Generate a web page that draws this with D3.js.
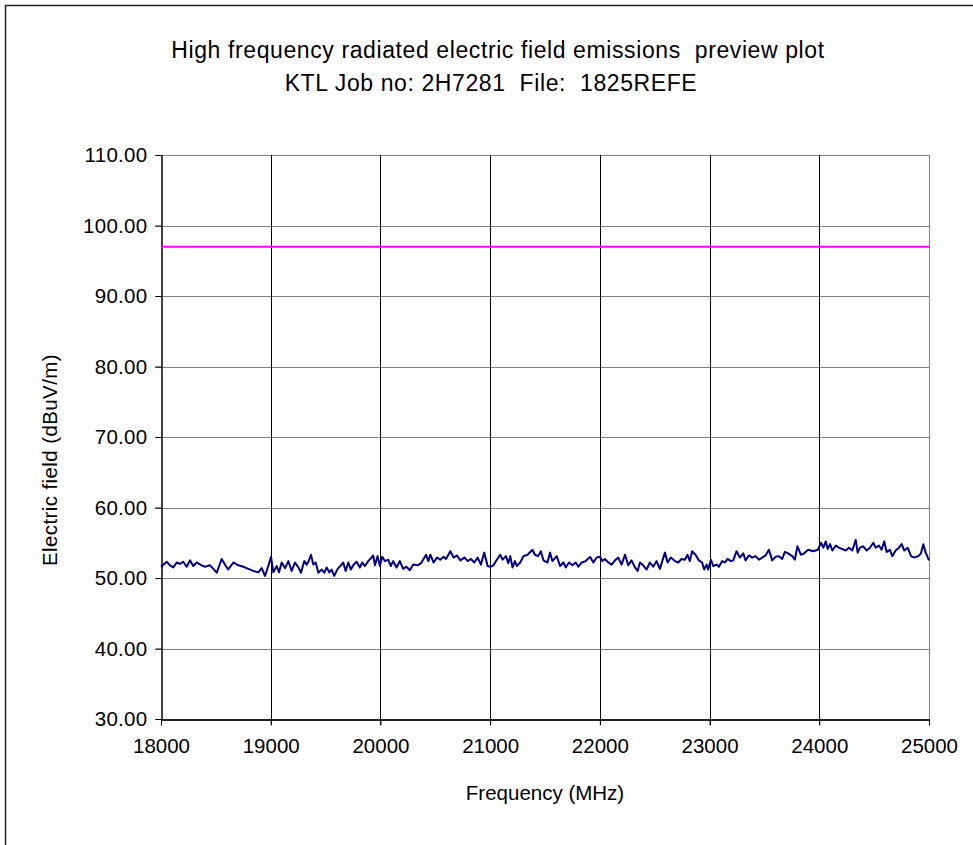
<!DOCTYPE html>
<html>
<script src="https://d3js.org/d3.v7.min.js"></script>
<style>
    body { margin: 0; background: #fff; }
    text { font-family: "Liberation Sans", Arial, sans-serif; fill: #000; white-space: pre; }
</style>
<body>
<div id="chart"></div>
<script>
    // chart data
    const titleLines = ["High frequency radiated electric field emissions  preview plot",
                        "KTL Job no: 2H7281  File:  1825REFE"];
    const xTicks = [18000, 19000, 20000, 21000, 22000, 23000, 24000, 25000];
    const yTicks = [30, 40, 50, 60, 70, 80, 90, 100, 110];
    const limitLevel = 97.0;
    const freqMHz = [
        18000, 18052, 18082, 18112, 18143, 18173, 18203, 18234, 18264, 18294, 18325, 18370, 18401, 18447, 18477,
        18508, 18553, 18583, 18613, 18659, 18705, 18750, 18796, 18841, 18887, 18918, 18948, 18978, 19003, 19024,
        19055, 19076, 19100, 19131, 19161, 19191, 19221, 19252, 19276, 19306, 19328, 19343, 19367, 19388, 19410,
        19434, 19464, 19488, 19510, 19534, 19555, 19579, 19610, 19640, 19661, 19683, 19707, 19731, 19752, 19783,
        19813, 19834, 19859, 19889, 19919, 19934, 19950, 19974, 19995, 20016, 20041, 20071, 20095, 20116, 20147,
        20177, 20207, 20238, 20268, 20298, 20340, 20370, 20416, 20437, 20455, 20485, 20516, 20546, 20576, 20598,
        20637, 20667, 20698, 20728, 20765, 20795, 20825, 20856, 20886, 20916, 20946, 20977, 21001, 21031, 21053,
        21092, 21113, 21144, 21165, 21183, 21204, 21226, 21244, 21274, 21304, 21341, 21386, 21408, 21438, 21462,
        21486, 21523, 21546, 21567, 21607, 21637, 21668, 21689, 21719, 21750, 21780, 21804, 21835, 21871, 21910,
        21941, 21971, 22001, 22022, 22047, 22077, 22107, 22138, 22168, 22198, 22229, 22259, 22289, 22320, 22344,
        22365, 22395, 22426, 22456, 22486, 22517, 22547, 22593, 22617, 22647, 22684, 22714, 22745, 22775, 22799,
        22820, 22841, 22872, 22902, 22932, 22951, 22973, 22987, 23012, 23033, 23064, 23085, 23115, 23140, 23164,
        23194, 23216, 23246, 23276, 23307, 23328, 23359, 23389, 23419, 23450, 23480, 23510, 23541, 23571, 23601,
        23632, 23662, 23686, 23716, 23753, 23777, 23801, 23832, 23862, 23898, 23946, 23986, 24016, 24037, 24059,
        24077, 24098, 24119, 24150, 24180, 24210, 24241, 24271, 24301, 24332, 24350, 24371, 24401, 24432, 24462,
        24492, 24514, 24544, 24568, 24592, 24614, 24644, 24665, 24696, 24726, 24751, 24775, 24806, 24836, 24866,
        24903, 24927, 24948, 24970, 25000
    ];
    const fieldDb = [
        51.6, 52.3, 51.8, 51.5, 52.2, 52.0, 52.3, 51.6, 52.5, 51.7, 52.2, 51.8, 51.6, 51.8, 51.3,
        50.75, 52.7, 51.9, 51.2, 52.2, 51.8, 51.6, 51.3, 51.0, 50.8, 51.4, 50.3, 51.7, 53.0, 50.8,
        51.7, 50.8, 52.2, 51.4, 52.4, 51.0, 52.2, 51.5, 50.75, 52.4, 51.9, 52.3, 53.3, 51.9, 52.2,
        50.75, 51.2, 50.75, 51.5, 50.8, 51.2, 50.3, 51.3, 51.8, 52.2, 51.0, 52.2, 51.2, 51.8, 52.3,
        51.5, 52.2, 51.7, 52.4, 52.9, 53.2, 51.8, 53.1, 51.7, 53.0, 52.4, 52.6, 51.7, 52.4, 51.5,
        52.4, 51.3, 51.6, 51.1, 51.9, 51.8, 52.1, 53.3, 52.4, 53.3, 52.2, 52.9, 52.6, 53.0, 52.7,
        53.8, 52.9, 53.2, 52.5, 52.9, 52.4, 52.7, 52.2, 52.9, 51.9, 53.6, 51.7, 51.6, 51.8, 52.4,
        53.3, 52.6, 53.1, 52.1, 53.1, 51.5, 52.4, 51.7, 52.2, 53.1, 53.3, 54.0, 53.3, 53.1, 53.8,
        52.5, 52.2, 53.6, 52.4, 53.1, 51.7, 52.2, 51.5, 52.2, 51.8, 52.2, 51.6, 52.2, 52.4, 53.0,
        52.2, 52.9, 53.0, 52.4, 52.7, 52.2, 51.9, 52.5, 52.9, 51.9, 53.3, 51.8, 52.5, 51.5, 51.0,
        52.2, 51.8, 51.2, 52.2, 51.6, 52.4, 51.3, 53.6, 52.2, 52.9, 52.4, 52.2, 52.7, 52.6, 53.3,
        52.4, 53.8, 53.3, 52.5, 52.2, 51.2, 51.9, 51.2, 52.6, 51.7, 51.9, 51.6, 52.4, 52.2, 52.7,
        52.4, 52.5, 53.8, 52.9, 53.5, 52.5, 53.2, 52.9, 53.1, 52.6, 52.9, 53.2, 54.0, 52.5, 53.0,
        53.1, 52.7, 53.7, 53.5, 53.1, 52.6, 54.5, 53.3, 53.5, 54.0, 53.8, 54.0, 55.0, 54.3, 55.2,
        54.1, 54.8, 53.9, 54.6, 54.3, 54.1, 53.9, 54.3, 53.9, 55.4, 53.6, 54.3, 54.5, 53.9, 54.3,
        55.0, 54.3, 54.6, 54.0, 55.2, 53.7, 54.0, 53.1, 53.9, 54.3, 54.8, 53.9, 54.3, 53.1, 52.9,
        53.1, 53.5, 54.8, 53.6, 52.5
    ];

    const width = 973, height = 845;
    const margin = { top: 155, right: 44, bottom: 126, left: 161 };

    const svg = d3.select("#chart")
        .append("svg")
        .attr("width", width)
        .attr("height", height);

    // outer frame (runs off the right and bottom edge)
    svg.append("rect")
        .attr("x", 5.5).attr("y", 5.5)
        .attr("width", width + 10).attr("height", height + 10)
        .attr("fill", "#fff")
        .attr("stroke", "#222")
        .attr("stroke-width", 1.5);

    const x = d3.scaleLinear()
        .domain([18000, 25000])
        .range([margin.left, width - margin.right]);

    const y = d3.scaleLinear()
        .domain([30, 110])
        .range([height - margin.bottom, margin.top]);

    // horizontal grid (grey)
    svg.append("g")
        .selectAll("line")
        .data(yTicks)
        .join("line")
        .attr("x1", margin.left - 6)
        .attr("x2", width - margin.right)
        .attr("y1", d => Math.round(y(d)) + 0.5)
        .attr("y2", d => Math.round(y(d)) + 0.5)
        .attr("stroke", "#808080")
        .attr("stroke-width", 1);

    // vertical grid (black)
    svg.append("g")
        .selectAll("line")
        .data(xTicks.slice(1, -1))
        .join("line")
        .attr("x1", d => Math.round(x(d)) + 0.5)
        .attr("x2", d => Math.round(x(d)) + 0.5)
        .attr("y1", margin.top)
        .attr("y2", height - margin.bottom + 6)
        .attr("stroke", "#000")
        .attr("stroke-width", 1);

    // right edge of plot area
    svg.append("line")
        .attr("x1", Math.round(x(25000)) + 0.5).attr("x2", Math.round(x(25000)) + 0.5)
        .attr("y1", margin.top).attr("y2", height - margin.bottom + 6)
        .attr("stroke", "#808080");

    // axes
    const xAxis = g => g
        .attr("transform", `translate(0,${Math.round(y(30)) + 0.5})`)
        .call(d3.axisBottom(x).tickValues(xTicks).tickFormat(d3.format("d")).tickSize(6).tickSizeOuter(0))
        .call(g => g.select(".domain").attr("stroke", "#222").attr("stroke-width", 2))
        .call(g => g.selectAll(".tick line").attr("stroke", "#000"))
        .call(g => g.selectAll(".tick text").attr("font-size", 20.5).attr("dy", "1.2em")
            .attr("font-family", "Liberation Sans, Arial, sans-serif"));

    const yAxis = g => g
        .attr("transform", `translate(${Math.round(x(18000)) + 0.5},0)`)
        .call(d3.axisLeft(y).tickValues(yTicks).tickFormat(d3.format(".2f")).tickSize(6).tickSizeOuter(0))
        .call(g => g.select(".domain").attr("stroke", "#000").attr("stroke-width", 1.5))
        .call(g => g.selectAll(".tick line").attr("stroke", "#000"))
        .call(g => g.selectAll(".tick text").attr("font-size", 20.5).attr("x", -14)
            .attr("letter-spacing", 0.3)
            .attr("font-family", "Liberation Sans, Arial, sans-serif"));

    svg.append("g").call(yAxis);
    svg.append("g").call(xAxis);

    // limit line
    svg.append("line")
        .attr("x1", x(18000)).attr("x2", x(25000))
        .attr("y1", y(limitLevel)).attr("y2", y(limitLevel))
        .attr("stroke", "#ff00ff")
        .attr("stroke-width", 2);

    // measured trace
    const line = d3.line()
        .x((d, i) => x(freqMHz[i]))
        .y(d => y(d));

    svg.append("path")
        .datum(fieldDb)
        .attr("fill", "none")
        .attr("stroke", "#000080")
        .attr("stroke-width", 2)
        .attr("stroke-linejoin", "round")
        .attr("d", line);

    // titles
    svg.selectAll(".title")
        .data(titleLines)
        .join("text")
        .attr("class", "title")
        .attr("x", (d, i) => i === 0 ? 498 : 491)
        .attr("y", (d, i) => i === 0 ? 58 : 91)
        .attr("text-anchor", "middle")
        .attr("font-size", 23)
        .attr("letter-spacing", 0.6)
        .text(d => d);

    svg.append("text")
        .attr("x", (x(18000) + x(25000)) / 2)
        .attr("y", 800)
        .attr("text-anchor", "middle")
        .attr("font-size", 20.5)
        .text("Frequency (MHz)");

    svg.append("text")
        .attr("transform", `translate(57,${(y(30) + y(110)) / 2 + 23}) rotate(-90)`)
        .attr("text-anchor", "middle")
        .attr("font-size", 20.5)
        .attr("letter-spacing", 0.4)
        .text("Electric field (dBuV/m)");
</script>
</body>
</html>
